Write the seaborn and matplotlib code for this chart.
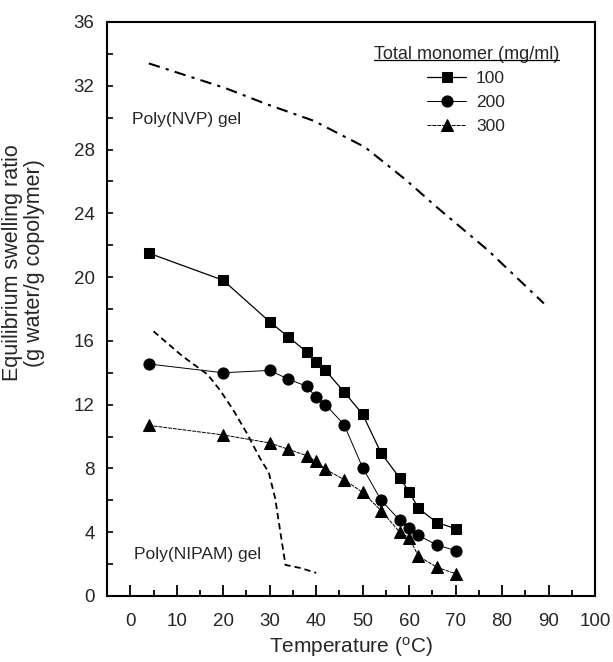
import numpy as np
import pandas as pd
import matplotlib
matplotlib.use('Agg')
import matplotlib.pyplot as plt
import seaborn as sns
from matplotlib.lines import Line2D

# temperatures of the measured points (°C)
temps = [4, 20, 30, 34, 38, 40, 42, 46, 50, 54, 58, 60, 62, 66, 70]

# equilibrium swelling ratio, by total monomer (mg/ml)
ratio_100 = [21.5, 19.8, 17.2, 16.25, 15.3, 14.7, 14.15, 12.8, 11.4, 8.95, 7.4, 6.55, 5.5, 4.6, 4.23]
ratio_200 = [14.55, 14.0, 14.15, 13.6, 13.15, 12.45, 12.0, 10.75, 8.05, 6.0, 4.75, 4.25, 3.8, 3.2, 2.85]
ratio_300 = [10.7, 10.1, 9.6, 9.2, 8.8, 8.45, 7.95, 7.3, 6.5, 5.35, 4.0, 3.65, 2.5, 1.8, 1.4]

# reference homopolymer gels
nvp_temp = [4, 20.5, 29.3, 39.5, 50.5, 59.3, 65.9, 76.9, 89]
nvp_ratio = [33.4, 31.85, 30.85, 29.8, 28.15, 26.1, 24.4, 21.7, 18.35]
nipam_temp = [5, 11.2, 16.6, 19.2, 22.1, 25, 28, 29.8, 31.2, 32.3, 33.4, 36.7, 40]
nipam_ratio = [16.6, 15.05, 13.9, 12.95, 11.7, 10.25, 8.6, 7.75, 6.1, 4.0, 1.95, 1.75, 1.45]

series_labels = ['100', '200', '300']

sns.set_theme(style='ticks')
plt.rcParams['font.family'] = ['Liberation Sans', 'DejaVu Sans']
plt.rcParams['mathtext.fontset'] = 'custom'
plt.rcParams['mathtext.rm'] = 'Liberation Sans'
plt.rcParams['mathtext.it'] = 'Liberation Sans'

fig = plt.figure(figsize=(6.13, 6.62), dpi=100)
ax = fig.add_axes([0.1746, 0.0997, 0.7960, 0.8671])

df = pd.DataFrame({'T': temps, '100': ratio_100, '200': ratio_200, '300': ratio_300})

styles = {
    '100': dict(marker='s', markersize=7.5, linestyle='-', linewidth=0.9),
    '200': dict(marker='o', markersize=8, linestyle='-', linewidth=0.7),
    '300': dict(marker='^', markersize=8.5, linestyle=(0, (4, 1)), linewidth=0.7),
}
for lab in series_labels:
    sns.lineplot(data=df, x='T', y=lab, ax=ax, color='black', estimator=None,
                 markeredgecolor='black', label=lab, **styles[lab])

sns.lineplot(x=nvp_temp, y=nvp_ratio, ax=ax, color='black', linewidth=1.5,
             estimator=None, legend=False)
ax.lines[-1].set_dashes([5.5, 3, 1.5, 3])
sns.lineplot(x=nipam_temp, y=nipam_ratio, ax=ax, color='black', linewidth=1.3,
             estimator=None, legend=False)
ax.lines[-1].set_dashes([3.5, 2.2])

ax.text(0.3, 29.9, 'Poly(NVP) gel', fontsize=12.5, va='center', ha='left')
ax.text(0.9, 2.6, 'Poly(NIPAM) gel', fontsize=12.5, va='center', ha='left')

ax.set_xlim(-5, 100)
ax.set_ylim(0, 36)
ax.set_xticks(np.arange(0, 101, 10))
ax.set_xticks(np.arange(5, 100, 10), minor=True)
ax.set_yticks(np.arange(0, 37, 4))
ax.set_yticks(np.arange(2, 36, 4), minor=True)
ax.tick_params(axis='both', which='both', direction='in', top=False, right=False,
               labelsize=13.5, color='black')
ax.tick_params(axis='x', which='major', length=8, width=1.3, pad=12)
ax.tick_params(axis='x', which='minor', length=4.5, width=1.3)
ax.tick_params(axis='y', which='major', length=4.5, width=1.2, pad=9)
ax.tick_params(axis='y', which='minor', length=4.5, width=1.2)
for sp in ax.spines.values():
    sp.set_visible(True)
    sp.set_linewidth(1.5)
    sp.set_color('black')

ax.set_xlabel(r'Temperature ($^{\rm o}$C)', fontsize=15, labelpad=4)
ax.set_ylabel('Equilibrium swelling ratio\n(g water/g copolymer)', fontsize=15.5,
              linespacing=1.05, va='center')
ax.yaxis.set_label_coords(-0.171, 0.58)

leg = ax.legend(title='Total monomer (mg/ml)',
                loc='upper right', bbox_to_anchor=(0.951, 0.98), frameon=False,
                fontsize=12.5, title_fontsize=13, handlelength=2.2,
                handletextpad=0.6, labelspacing=0.5, borderpad=0.2)

# underline the legend title
fig.canvas.draw()
bb = leg.get_title().get_window_extent().transformed(fig.transFigure.inverted())
fig.add_artist(Line2D([bb.x0, bb.x1], [bb.y0 + 0.004, bb.y0 + 0.004],
                      color='black', linewidth=0.9, transform=fig.transFigure))

fig.savefig('out.png', dpi=100)
